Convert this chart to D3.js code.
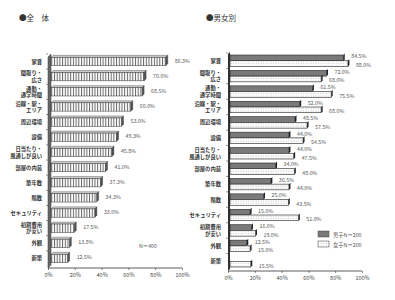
<!DOCTYPE html>
<html><head><meta charset="utf-8">
<script src="https://cdn.jsdelivr.net/npm/d3@7"></script>
<style>body{margin:0;background:#fff}svg{display:block}</style>
</head><body>
<svg id="c" width="395" height="300"></svg>
<script>
const categories = ["家賃","間取り・\n広さ","通勤・\n通学時間","沿線・駅・\nエリア","周辺環境","設備","日当たり・\n風通しが良い","部屋の内装","築年数","階数","セキュリティ","初期費用\nが安い","外観","新築"];
const totalValues = [86.3,70.0,68.5,60.0,53.0,49.3,45.8,41.0,37.3,34.3,33.0,17.5,13.8,12.5];
const maleValues = [84.5,72.0,61.5,52.0,48.5,44.0,44.0,34.0,30.5,25.0,15.0,16.0,12.5,null];
const femaleValues = [88.0,68.0,75.5,68.0,57.5,54.5,47.5,48.0,44.0,43.5,51.0,19.0,15.0,15.5];
const xTicks = [0,20,40,60,80,100];
const titles = ["●全　体","●男女別"];
const legendLabels = ["男子N＝200","女子N＝200"];
const noteLabel = "N＝400";

const FONT = "'Noto Sans CJK JP','Noto Sans',sans-serif";
const svg = d3.select("#c");
const defs = svg.append("defs");
const pS = defs.append("pattern").attr("id","stripe").attr("patternUnits","userSpaceOnUse").attr("width",2.7).attr("height",4);
pS.append("rect").attr("width",2.7).attr("height",4).attr("fill","#fff");
pS.append("rect").attr("width",1).attr("height",4).attr("fill","#666");
const pD = defs.append("pattern").attr("id","dots").attr("patternUnits","userSpaceOnUse").attr("width",2.5).attr("height",2.5);
pD.append("rect").attr("width",2.5).attr("height",2.5).attr("fill","#fff");
pD.append("rect").attr("x",0.6).attr("y",0.6).attr("width",0.9).attr("height",0.9).attr("fill","#aaa");

function catLabels(g, y, xr, yOff){
  categories.forEach((c,i)=>{
    const lines = c.split("\n");
    const cy = y(c) + y.bandwidth()/2 + (yOff||0);
    const t = g.append("text").attr("x",xr).attr("text-anchor","end")
      .attr("font-family",FONT).attr("font-size",5.3).attr("font-weight","bold").attr("fill","#333");
    lines.forEach((l,k)=>{
      t.append("tspan").attr("x",xr).attr("y",cy + 2 + (k-(lines.length-1)/2)*6.5).text(l);
    });
  });
}

function xAxis(g, sc, y0){
  g.append("line").attr("x1",sc(0)).attr("x2",sc(100)).attr("y1",y0).attr("y2",y0).attr("stroke","#333").attr("stroke-width",0.8);
  const ax = d3.axisBottom(sc).tickValues(xTicks).tickFormat(d=>d+"%").tickSize(2).tickPadding(3);
  const a = g.append("g").attr("transform",`translate(0,${y0})`).call(ax);
  a.select(".domain").remove();
  a.selectAll("line").attr("stroke","#333").attr("stroke-width",0.6);
  a.selectAll("text").attr("font-family",FONT).attr("font-size",5.5).attr("fill","#444");
}

/* ---------- left chart ---------- */
{
  const g = svg.append("g");
  g.append("text").attr("x",19).attr("y",21).attr("font-family",FONT).attr("font-size",7.5).attr("fill","#333").text(titles[0]);
  const y = d3.scaleBand().domain(categories).range([54,266]).paddingInner(0.45).paddingOuter(0.22);
  const xb = d3.scaleLinear().domain([0,100]).range([51,184]);
  const xa = d3.scaleLinear().domain([0,100]).range([48,182]);
  // wall
  g.append("path").attr("d",`M48,268 L48,57 L51,54 L51,265 Z`).attr("fill","#6a6a6a").attr("stroke","#333").attr("stroke-width",0.5);
  // notches
  categories.forEach((c,i)=>{
    const yy = y(c) - y.step()*y.paddingInner()/2;
    g.append("line").attr("x1",46).attr("x2",48).attr("y1",yy).attr("y2",yy).attr("stroke","#333").attr("stroke-width",0.5);
  });
  xAxis(g, xa, 268);
  const d = 2;
  categories.forEach((c,i)=>{
    const v = totalValues[i];
    const y0 = y(c), h = y.bandwidth(), x0 = xb(0), x1 = xb(v);
    g.append("path").attr("d",`M${x0},${y0} L${x0+d},${y0-d} L${x1+d},${y0-d} L${x1},${y0} Z`).attr("fill","#ccc").attr("stroke","#444").attr("stroke-width",0.4);
    g.append("path").attr("d",`M${x1},${y0} L${x1+d},${y0-d} L${x1+d},${y0+h-d} L${x1},${y0+h} Z`).attr("fill","#555").attr("stroke","#333").attr("stroke-width",0.4);
    g.append("rect").attr("x",x0).attr("y",y0).attr("width",x1-x0).attr("height",h).attr("fill","url(#stripe)").attr("stroke","#333").attr("stroke-width",0.5);
    g.append("text").attr("x",x1+9).attr("y",y0+h/2+1).attr("font-family",FONT).attr("font-size",5.3).attr("fill","#555").text(v.toFixed(1)+"%");
  });
  catLabels(g, y, 42, 0);
  g.append("text").attr("x",139).attr("y",248).attr("font-family",FONT).attr("font-size",5.3).attr("fill","#555").text(noteLabel);
}

/* ---------- right chart ---------- */
{
  const g = svg.append("g");
  g.append("text").attr("x",206).attr("y",21).attr("font-family",FONT).attr("font-size",7.5).attr("fill","#333").text(titles[1]);
  const y = d3.scaleBand().domain(categories).range([53,269]).paddingInner(0.26).paddingOuter(0.13);
  const ys = d3.scaleBand().domain(["m","f"]).range([0,y.bandwidth()]);
  const xb = d3.scaleLinear().domain([0,100]).range([230,364]);
  const xa = d3.scaleLinear().domain([0,100]).range([228,362]);
  g.append("path").attr("d",`M228,271 L228,54 L230,52 L230,269 Z`).attr("fill","#333");
  categories.forEach((c,i)=>{
    const yy = y(c) - y.step()*y.paddingInner()/2;
    g.append("line").attr("x1",226).attr("x2",228).attr("y1",yy).attr("y2",yy).attr("stroke","#333").attr("stroke-width",0.5);
  });
  xAxis(g, xa, 271);
  const d = 1.5;
  const series = [{k:"m",vals:maleValues,fill:"#7a7a7a",dy:-1.5},{k:"f",vals:femaleValues,fill:"url(#dots)",dy:1.5}];
  categories.forEach((c,i)=>{
    series.forEach(s=>{
      const v = s.vals[i];
      if (v == null) return;
      const y0 = y(c)+ys(s.k), h = ys.bandwidth(), x0 = xb(0), x1 = xb(v);
      g.append("path").attr("d",`M${x1},${y0} L${x1+d},${y0-d} L${x1+d},${y0+h-d} L${x1},${y0+h} Z`).attr("fill","#222");
      g.append("rect").attr("x",x0).attr("y",y0).attr("width",x1-x0).attr("height",h).attr("fill",s.fill).attr("stroke","#222").attr("stroke-width",0.6);
      g.append("text").attr("x",x1+8).attr("y",y0+h/2+2+s.dy).attr("font-family",FONT).attr("font-size",5.3).attr("fill","#555").text(v.toFixed(1)+"%");
    });
  });
  catLabels(g, y, 221, 0);
  // legend
  const lg = g.append("g");
  [["#7a7a7a"],["url(#dots)"]].forEach((f,k)=>{
    lg.append("rect").attr("x",318).attr("y",231+k*10).attr("width",11).attr("height",6).attr("fill",f[0]).attr("stroke","#444").attr("stroke-width",0.5);
    lg.append("text").attr("x",333).attr("y",236.5+k*10).attr("font-family",FONT).attr("font-size",5.3).attr("fill","#555").text(legendLabels[k]);
  });
}
</script>
</body></html>
